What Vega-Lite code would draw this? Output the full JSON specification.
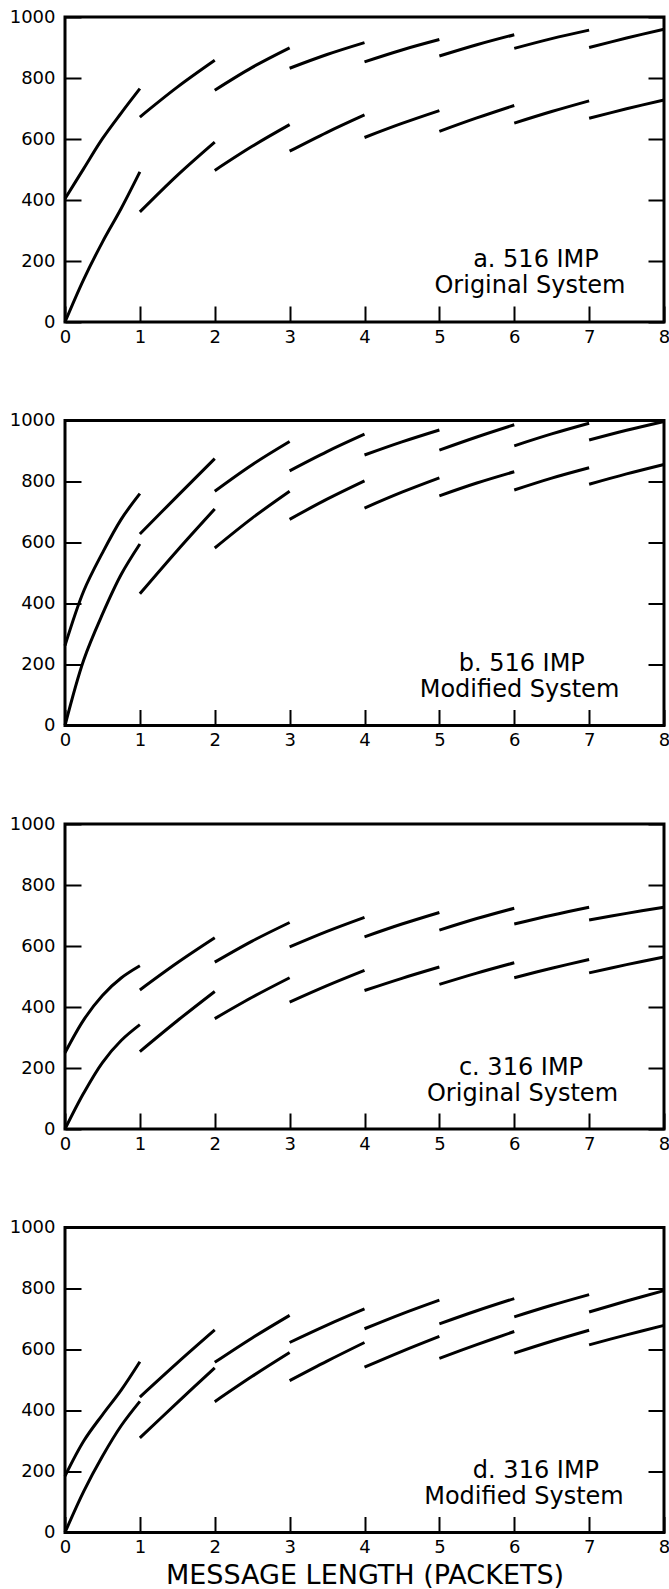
{
"$schema": "https://vega.github.io/schema/vega-lite/v6.json",
"padding": {"left": 7, "top": 6, "right": 0, "bottom": 0},
"bounds": "flush",
"spacing": 98.5,
"background": "white",
"datasets": {
"curves": [
{"panel":"a","curve":"upper","seg":0,"x":0,"y":404},{"panel":"a","curve":"upper","seg":0,"x":0.25,"y":503},{"panel":"a","curve":"upper","seg":0,"x":0.5,"y":601},{"panel":"a","curve":"upper","seg":0,"x":0.75,"y":685},{"panel":"a","curve":"upper","seg":0,"x":1,"y":765},
{"panel":"a","curve":"upper","seg":1,"x":1,"y":672},{"panel":"a","curve":"upper","seg":1,"x":1.5,"y":770},{"panel":"a","curve":"upper","seg":1,"x":2,"y":858},
{"panel":"a","curve":"upper","seg":2,"x":2,"y":760},{"panel":"a","curve":"upper","seg":2,"x":2.5,"y":835},{"panel":"a","curve":"upper","seg":2,"x":3,"y":899},
{"panel":"a","curve":"upper","seg":3,"x":3,"y":832},{"panel":"a","curve":"upper","seg":3,"x":3.5,"y":877},{"panel":"a","curve":"upper","seg":3,"x":4,"y":916},
{"panel":"a","curve":"upper","seg":4,"x":4,"y":853},{"panel":"a","curve":"upper","seg":4,"x":4.5,"y":892},{"panel":"a","curve":"upper","seg":4,"x":5,"y":926},
{"panel":"a","curve":"upper","seg":5,"x":5,"y":872},{"panel":"a","curve":"upper","seg":5,"x":5.5,"y":909},{"panel":"a","curve":"upper","seg":5,"x":6,"y":942},
{"panel":"a","curve":"upper","seg":6,"x":6,"y":897},{"panel":"a","curve":"upper","seg":6,"x":6.5,"y":929},{"panel":"a","curve":"upper","seg":6,"x":7,"y":957},
{"panel":"a","curve":"upper","seg":7,"x":7,"y":900},{"panel":"a","curve":"upper","seg":7,"x":7.5,"y":931},{"panel":"a","curve":"upper","seg":7,"x":8,"y":960},
{"panel":"a","curve":"lower","seg":0,"x":0,"y":0},{"panel":"a","curve":"lower","seg":0,"x":0.25,"y":140},{"panel":"a","curve":"lower","seg":0,"x":0.5,"y":262},{"panel":"a","curve":"lower","seg":0,"x":0.75,"y":372},{"panel":"a","curve":"lower","seg":0,"x":1,"y":492},
{"panel":"a","curve":"lower","seg":1,"x":1,"y":361},{"panel":"a","curve":"lower","seg":1,"x":1.5,"y":481},{"panel":"a","curve":"lower","seg":1,"x":2,"y":590},
{"panel":"a","curve":"lower","seg":2,"x":2,"y":497},{"panel":"a","curve":"lower","seg":2,"x":2.5,"y":576},{"panel":"a","curve":"lower","seg":2,"x":3,"y":647},
{"panel":"a","curve":"lower","seg":3,"x":3,"y":560},{"panel":"a","curve":"lower","seg":3,"x":3.5,"y":622},{"panel":"a","curve":"lower","seg":3,"x":4,"y":679},
{"panel":"a","curve":"lower","seg":4,"x":4,"y":605},{"panel":"a","curve":"lower","seg":4,"x":4.5,"y":651},{"panel":"a","curve":"lower","seg":4,"x":5,"y":693},
{"panel":"a","curve":"lower","seg":5,"x":5,"y":625},{"panel":"a","curve":"lower","seg":5,"x":5.5,"y":669},{"panel":"a","curve":"lower","seg":5,"x":6,"y":710},
{"panel":"a","curve":"lower","seg":6,"x":6,"y":652},{"panel":"a","curve":"lower","seg":6,"x":6.5,"y":690},{"panel":"a","curve":"lower","seg":6,"x":7,"y":725},
{"panel":"a","curve":"lower","seg":7,"x":7,"y":668},{"panel":"a","curve":"lower","seg":7,"x":7.5,"y":699},{"panel":"a","curve":"lower","seg":7,"x":8,"y":728},

{"panel":"b","curve":"upper","seg":0,"x":0,"y":262},{"panel":"b","curve":"upper","seg":0,"x":0.25,"y":441},{"panel":"b","curve":"upper","seg":0,"x":0.5,"y":566},{"panel":"b","curve":"upper","seg":0,"x":0.75,"y":676},{"panel":"b","curve":"upper","seg":0,"x":1,"y":760},
{"panel":"b","curve":"upper","seg":1,"x":1,"y":628},{"panel":"b","curve":"upper","seg":1,"x":1.5,"y":752},{"panel":"b","curve":"upper","seg":1,"x":2,"y":875},
{"panel":"b","curve":"upper","seg":2,"x":2,"y":768},{"panel":"b","curve":"upper","seg":2,"x":2.5,"y":855},{"panel":"b","curve":"upper","seg":2,"x":3,"y":931},
{"panel":"b","curve":"upper","seg":3,"x":3,"y":835},{"panel":"b","curve":"upper","seg":3,"x":3.5,"y":898},{"panel":"b","curve":"upper","seg":3,"x":4,"y":955},
{"panel":"b","curve":"upper","seg":4,"x":4,"y":887},{"panel":"b","curve":"upper","seg":4,"x":4.5,"y":930},{"panel":"b","curve":"upper","seg":4,"x":5,"y":969},
{"panel":"b","curve":"upper","seg":5,"x":5,"y":903},{"panel":"b","curve":"upper","seg":5,"x":5.5,"y":946},{"panel":"b","curve":"upper","seg":5,"x":6,"y":986},
{"panel":"b","curve":"upper","seg":6,"x":6,"y":917},{"panel":"b","curve":"upper","seg":6,"x":6.5,"y":956},{"panel":"b","curve":"upper","seg":6,"x":7,"y":991},
{"panel":"b","curve":"upper","seg":7,"x":7,"y":936},{"panel":"b","curve":"upper","seg":7,"x":7.5,"y":968},{"panel":"b","curve":"upper","seg":7,"x":8,"y":997},
{"panel":"b","curve":"lower","seg":0,"x":0,"y":0},{"panel":"b","curve":"lower","seg":0,"x":0.25,"y":215},{"panel":"b","curve":"lower","seg":0,"x":0.5,"y":365},{"panel":"b","curve":"lower","seg":0,"x":0.75,"y":495},{"panel":"b","curve":"lower","seg":0,"x":1,"y":595},
{"panel":"b","curve":"lower","seg":1,"x":1,"y":432},{"panel":"b","curve":"lower","seg":1,"x":1.5,"y":574},{"panel":"b","curve":"lower","seg":1,"x":2,"y":710},
{"panel":"b","curve":"lower","seg":2,"x":2,"y":582},{"panel":"b","curve":"lower","seg":2,"x":2.5,"y":680},{"panel":"b","curve":"lower","seg":2,"x":3,"y":768},
{"panel":"b","curve":"lower","seg":3,"x":3,"y":676},{"panel":"b","curve":"lower","seg":3,"x":3.5,"y":742},{"panel":"b","curve":"lower","seg":3,"x":4,"y":802},
{"panel":"b","curve":"lower","seg":4,"x":4,"y":713},{"panel":"b","curve":"lower","seg":4,"x":4.5,"y":765},{"panel":"b","curve":"lower","seg":4,"x":5,"y":812},
{"panel":"b","curve":"lower","seg":5,"x":5,"y":753},{"panel":"b","curve":"lower","seg":5,"x":5.5,"y":795},{"panel":"b","curve":"lower","seg":5,"x":6,"y":832},
{"panel":"b","curve":"lower","seg":6,"x":6,"y":772},{"panel":"b","curve":"lower","seg":6,"x":6.5,"y":811},{"panel":"b","curve":"lower","seg":6,"x":7,"y":845},
{"panel":"b","curve":"lower","seg":7,"x":7,"y":791},{"panel":"b","curve":"lower","seg":7,"x":7.5,"y":825},{"panel":"b","curve":"lower","seg":7,"x":8,"y":856},

{"panel":"c","curve":"upper","seg":0,"x":0,"y":250},{"panel":"c","curve":"upper","seg":0,"x":0.25,"y":358},{"panel":"c","curve":"upper","seg":0,"x":0.5,"y":438},{"panel":"c","curve":"upper","seg":0,"x":0.75,"y":495},{"panel":"c","curve":"upper","seg":0,"x":1,"y":535},
{"panel":"c","curve":"upper","seg":1,"x":1,"y":456},{"panel":"c","curve":"upper","seg":1,"x":1.5,"y":545},{"panel":"c","curve":"upper","seg":1,"x":2,"y":627},
{"panel":"c","curve":"upper","seg":2,"x":2,"y":547},{"panel":"c","curve":"upper","seg":2,"x":2.5,"y":616},{"panel":"c","curve":"upper","seg":2,"x":3,"y":677},
{"panel":"c","curve":"upper","seg":3,"x":3,"y":597},{"panel":"c","curve":"upper","seg":3,"x":3.5,"y":648},{"panel":"c","curve":"upper","seg":3,"x":4,"y":694},
{"panel":"c","curve":"upper","seg":4,"x":4,"y":630},{"panel":"c","curve":"upper","seg":4,"x":4.5,"y":672},{"panel":"c","curve":"upper","seg":4,"x":5,"y":710},
{"panel":"c","curve":"upper","seg":5,"x":5,"y":652},{"panel":"c","curve":"upper","seg":5,"x":5.5,"y":690},{"panel":"c","curve":"upper","seg":5,"x":6,"y":724},
{"panel":"c","curve":"upper","seg":6,"x":6,"y":672},{"panel":"c","curve":"upper","seg":6,"x":6.5,"y":701},{"panel":"c","curve":"upper","seg":6,"x":7,"y":727},
{"panel":"c","curve":"upper","seg":7,"x":7,"y":685},{"panel":"c","curve":"upper","seg":7,"x":7.5,"y":707},{"panel":"c","curve":"upper","seg":7,"x":8,"y":727},
{"panel":"c","curve":"lower","seg":0,"x":0,"y":0},{"panel":"c","curve":"lower","seg":0,"x":0.25,"y":118},{"panel":"c","curve":"lower","seg":0,"x":0.5,"y":218},{"panel":"c","curve":"lower","seg":0,"x":0.75,"y":290},{"panel":"c","curve":"lower","seg":0,"x":1,"y":342},
{"panel":"c","curve":"lower","seg":1,"x":1,"y":254},{"panel":"c","curve":"lower","seg":1,"x":1.5,"y":355},{"panel":"c","curve":"lower","seg":1,"x":2,"y":451},
{"panel":"c","curve":"lower","seg":2,"x":2,"y":362},{"panel":"c","curve":"lower","seg":2,"x":2.5,"y":432},{"panel":"c","curve":"lower","seg":2,"x":3,"y":496},
{"panel":"c","curve":"lower","seg":3,"x":3,"y":416},{"panel":"c","curve":"lower","seg":3,"x":3.5,"y":470},{"panel":"c","curve":"lower","seg":3,"x":4,"y":520},
{"panel":"c","curve":"lower","seg":4,"x":4,"y":454},{"panel":"c","curve":"lower","seg":4,"x":4.5,"y":494},{"panel":"c","curve":"lower","seg":4,"x":5,"y":531},
{"panel":"c","curve":"lower","seg":5,"x":5,"y":474},{"panel":"c","curve":"lower","seg":5,"x":5.5,"y":511},{"panel":"c","curve":"lower","seg":5,"x":6,"y":545},
{"panel":"c","curve":"lower","seg":6,"x":6,"y":496},{"panel":"c","curve":"lower","seg":6,"x":6.5,"y":527},{"panel":"c","curve":"lower","seg":6,"x":7,"y":556},
{"panel":"c","curve":"lower","seg":7,"x":7,"y":512},{"panel":"c","curve":"lower","seg":7,"x":7.5,"y":539},{"panel":"c","curve":"lower","seg":7,"x":8,"y":564},

{"panel":"d","curve":"upper","seg":0,"x":0,"y":185},{"panel":"d","curve":"upper","seg":0,"x":0.25,"y":300},{"panel":"d","curve":"upper","seg":0,"x":0.5,"y":386},{"panel":"d","curve":"upper","seg":0,"x":0.75,"y":467},{"panel":"d","curve":"upper","seg":0,"x":1,"y":560},
{"panel":"d","curve":"upper","seg":1,"x":1,"y":444},{"panel":"d","curve":"upper","seg":1,"x":1.5,"y":556},{"panel":"d","curve":"upper","seg":1,"x":2,"y":664},
{"panel":"d","curve":"upper","seg":2,"x":2,"y":558},{"panel":"d","curve":"upper","seg":2,"x":2.5,"y":638},{"panel":"d","curve":"upper","seg":2,"x":3,"y":712},
{"panel":"d","curve":"upper","seg":3,"x":3,"y":623},{"panel":"d","curve":"upper","seg":3,"x":3.5,"y":680},{"panel":"d","curve":"upper","seg":3,"x":4,"y":733},
{"panel":"d","curve":"upper","seg":4,"x":4,"y":668},{"panel":"d","curve":"upper","seg":4,"x":4.5,"y":717},{"panel":"d","curve":"upper","seg":4,"x":5,"y":762},
{"panel":"d","curve":"upper","seg":5,"x":5,"y":684},{"panel":"d","curve":"upper","seg":5,"x":5.5,"y":727},{"panel":"d","curve":"upper","seg":5,"x":6,"y":767},
{"panel":"d","curve":"upper","seg":6,"x":6,"y":707},{"panel":"d","curve":"upper","seg":6,"x":6.5,"y":745},{"panel":"d","curve":"upper","seg":6,"x":7,"y":780},
{"panel":"d","curve":"upper","seg":7,"x":7,"y":723},{"panel":"d","curve":"upper","seg":7,"x":7.5,"y":759},{"panel":"d","curve":"upper","seg":7,"x":8,"y":793},
{"panel":"d","curve":"lower","seg":0,"x":0,"y":0},{"panel":"d","curve":"lower","seg":0,"x":0.25,"y":135},{"panel":"d","curve":"lower","seg":0,"x":0.5,"y":250},{"panel":"d","curve":"lower","seg":0,"x":0.75,"y":350},{"panel":"d","curve":"lower","seg":0,"x":1,"y":430},
{"panel":"d","curve":"lower","seg":1,"x":1,"y":310},{"panel":"d","curve":"lower","seg":1,"x":1.5,"y":426},{"panel":"d","curve":"lower","seg":1,"x":2,"y":540},
{"panel":"d","curve":"lower","seg":2,"x":2,"y":429},{"panel":"d","curve":"lower","seg":2,"x":2.5,"y":512},{"panel":"d","curve":"lower","seg":2,"x":3,"y":590},
{"panel":"d","curve":"lower","seg":3,"x":3,"y":498},{"panel":"d","curve":"lower","seg":3,"x":3.5,"y":562},{"panel":"d","curve":"lower","seg":3,"x":4,"y":623},
{"panel":"d","curve":"lower","seg":4,"x":4,"y":542},{"panel":"d","curve":"lower","seg":4,"x":4.5,"y":594},{"panel":"d","curve":"lower","seg":4,"x":5,"y":643},
{"panel":"d","curve":"lower","seg":5,"x":5,"y":571},{"panel":"d","curve":"lower","seg":5,"x":5.5,"y":616},{"panel":"d","curve":"lower","seg":5,"x":6,"y":659},
{"panel":"d","curve":"lower","seg":6,"x":6,"y":588},{"panel":"d","curve":"lower","seg":6,"x":6.5,"y":627},{"panel":"d","curve":"lower","seg":6,"x":7,"y":663},
{"panel":"d","curve":"lower","seg":7,"x":7,"y":615},{"panel":"d","curve":"lower","seg":7,"x":7.5,"y":648},{"panel":"d","curve":"lower","seg":7,"x":8,"y":679}
],
"labels": [
{"panel":"a","x":6.29,"y":181,"text":"a. 516 IMP"},{"panel":"a","x":6.21,"y":95,"text":"Original System"},
{"panel":"b","x":6.10,"y":178,"text":"b. 516 IMP"},{"panel":"b","x":6.07,"y":92,"text":"Modified System"},
{"panel":"c","x":6.09,"y":178,"text":"c. 316 IMP"},{"panel":"c","x":6.11,"y":92,"text":"Original System"},
{"panel":"d","x":6.29,"y":178,"text":"d. 316 IMP"},{"panel":"d","x":6.13,"y":92,"text":"Modified System"}
]
},
"vconcat": [
{"width": 599, "height": 305,
 "layer": [
  {"data": {"name": "curves"}, "transform": [{"filter": "datum.panel === 'a'"}],
   "mark": {"type": "line", "color": "black", "strokeWidth": 3, "interpolate": "catmull-rom"},
   "encoding": {
    "x": {"field": "x", "type": "quantitative", "scale": {"domain": [0, 8], "nice": false, "zero": false}, "axis": {"values": [0,1,2,3,4,5,6,7,8], "title": null}},
    "y": {"field": "y", "type": "quantitative", "scale": {"domain": [0, 1000], "nice": false}, "axis": {"values": [0,200,400,600,800,1000], "format": "d", "title": null}},
    "detail": [{"field": "curve"}, {"field": "seg"}]}},
  {"data": {"name": "labels"}, "transform": [{"filter": "datum.panel === 'a'"}],
   "mark": {"type": "text", "font": "DejaVu Sans", "fontSize": 24, "color": "black", "align": "center", "baseline": "alphabetic"},
   "encoding": {
    "x": {"field": "x", "type": "quantitative", "scale": {"domain": [0, 8], "nice": false, "zero": false}, "axis": {"values": [0,1,2,3,4,5,6,7,8], "title": null}},
    "y": {"field": "y", "type": "quantitative", "scale": {"domain": [0, 1000], "nice": false}, "axis": {"orient": "right", "labels": false, "values": [0,200,400,600,800,1000], "title": null}},
    "text": {"field": "text"}}}
 ],
 "resolve": {"axis": {"y": "independent"}}},
{"width": 599, "height": 305,
 "layer": [
  {"data": {"name": "curves"}, "transform": [{"filter": "datum.panel === 'b'"}],
   "mark": {"type": "line", "color": "black", "strokeWidth": 3, "interpolate": "catmull-rom"},
   "encoding": {
    "x": {"field": "x", "type": "quantitative", "scale": {"domain": [0, 8], "nice": false, "zero": false}, "axis": {"values": [0,1,2,3,4,5,6,7,8], "title": null}},
    "y": {"field": "y", "type": "quantitative", "scale": {"domain": [0, 1000], "nice": false}, "axis": {"values": [0,200,400,600,800,1000], "format": "d", "title": null}},
    "detail": [{"field": "curve"}, {"field": "seg"}]}},
  {"data": {"name": "labels"}, "transform": [{"filter": "datum.panel === 'b'"}],
   "mark": {"type": "text", "font": "DejaVu Sans", "fontSize": 24, "color": "black", "align": "center", "baseline": "alphabetic"},
   "encoding": {
    "x": {"field": "x", "type": "quantitative", "scale": {"domain": [0, 8], "nice": false, "zero": false}, "axis": {"values": [0,1,2,3,4,5,6,7,8], "title": null}},
    "y": {"field": "y", "type": "quantitative", "scale": {"domain": [0, 1000], "nice": false}, "axis": {"orient": "right", "labels": false, "values": [0,200,400,600,800,1000], "title": null}},
    "text": {"field": "text"}}}
 ],
 "resolve": {"axis": {"y": "independent"}}},
{"width": 599, "height": 305,
 "layer": [
  {"data": {"name": "curves"}, "transform": [{"filter": "datum.panel === 'c'"}],
   "mark": {"type": "line", "color": "black", "strokeWidth": 3, "interpolate": "catmull-rom"},
   "encoding": {
    "x": {"field": "x", "type": "quantitative", "scale": {"domain": [0, 8], "nice": false, "zero": false}, "axis": {"values": [0,1,2,3,4,5,6,7,8], "title": null}},
    "y": {"field": "y", "type": "quantitative", "scale": {"domain": [0, 1000], "nice": false}, "axis": {"values": [0,200,400,600,800,1000], "format": "d", "title": null}},
    "detail": [{"field": "curve"}, {"field": "seg"}]}},
  {"data": {"name": "labels"}, "transform": [{"filter": "datum.panel === 'c'"}],
   "mark": {"type": "text", "font": "DejaVu Sans", "fontSize": 24, "color": "black", "align": "center", "baseline": "alphabetic"},
   "encoding": {
    "x": {"field": "x", "type": "quantitative", "scale": {"domain": [0, 8], "nice": false, "zero": false}, "axis": {"values": [0,1,2,3,4,5,6,7,8], "title": null}},
    "y": {"field": "y", "type": "quantitative", "scale": {"domain": [0, 1000], "nice": false}, "axis": {"orient": "right", "labels": false, "values": [0,200,400,600,800,1000], "title": null}},
    "text": {"field": "text"}}}
 ],
 "resolve": {"axis": {"y": "independent"}}},
{"width": 599, "height": 305,
 "layer": [
  {"data": {"name": "curves"}, "transform": [{"filter": "datum.panel === 'd'"}],
   "mark": {"type": "line", "color": "black", "strokeWidth": 3, "interpolate": "catmull-rom"},
   "encoding": {
    "x": {"field": "x", "type": "quantitative", "scale": {"domain": [0, 8], "nice": false, "zero": false}, "axis": {"values": [0,1,2,3,4,5,6,7,8], "title": "MESSAGE LENGTH (PACKETS)"}},
    "y": {"field": "y", "type": "quantitative", "scale": {"domain": [0, 1000], "nice": false}, "axis": {"values": [0,200,400,600,800,1000], "format": "d", "title": null}},
    "detail": [{"field": "curve"}, {"field": "seg"}]}},
  {"data": {"name": "labels"}, "transform": [{"filter": "datum.panel === 'd'"}],
   "mark": {"type": "text", "font": "DejaVu Sans", "fontSize": 24, "color": "black", "align": "center", "baseline": "alphabetic"},
   "encoding": {
    "x": {"field": "x", "type": "quantitative", "scale": {"domain": [0, 8], "nice": false, "zero": false}, "axis": {"values": [0,1,2,3,4,5,6,7,8], "title": "MESSAGE LENGTH (PACKETS)"}},
    "y": {"field": "y", "type": "quantitative", "scale": {"domain": [0, 1000], "nice": false}, "axis": {"orient": "right", "labels": false, "values": [0,200,400,600,800,1000], "title": null}},
    "text": {"field": "text"}}}
 ],
 "resolve": {"axis": {"y": "independent"}}}
],
"config": {
 "view": {"stroke": "black", "strokeWidth": 3},
 "axis": {"domain": false, "grid": false, "ticks": true, "tickSize": -16, "tickWidth": 2, "tickColor": "black",
  "labelFont": "DejaVu Sans", "labelFontSize": 18, "labelColor": "black",
  "titleFont": "DejaVu Sans", "titleFontSize": 27, "titleFontWeight": "normal", "titleColor": "black", "titlePadding": 6},
 "axisX": {"labelPadding": 22, "labelFlush": false, "labelAngle": 0},
 "axisY": {"labelPadding": 26}
}
}
